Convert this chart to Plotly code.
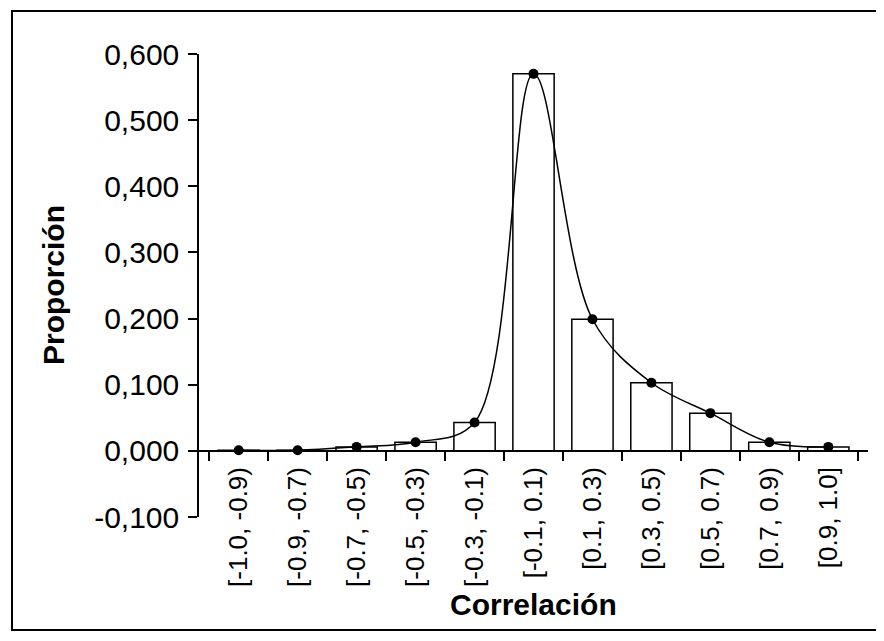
import plotly.graph_objects as go

categories = ["[-1.0, -0.9)", "[-0.9, -0.7)", "[-0.7, -0.5)", "[-0.5, -0.3)", "[-0.3, -0.1)",
              "[-0.1, 0.1)", "[0.1, 0.3)", "[0.3, 0.5)", "[0.5, 0.7)", "[0.7, 0.9)", "[0.9, 1.0]"]
proportion = [0.001, 0.001, 0.006, 0.013, 0.043, 0.570, 0.199, 0.103, 0.057, 0.013, 0.006]
y_tick_vals = [-0.1, 0.0, 0.1, 0.2, 0.3, 0.4, 0.5, 0.6]
y_tick_text = ["-0,100", "0,000", "0,100", "0,200", "0,300", "0,400", "0,500", "0,600"]

# the page body has an 8px margin; figure occupies window minus that offset
OFF = 8
W, H = 884 - OFF, 641 - OFF
L, R, T, B = 199 - OFF, 16, 54 - OFF, 124
pw, ph = W - L - R, H - T - B
ymin, ymax = -0.1, 0.6

def px_x(x):
    return (x - OFF - L) / pw

def px_y(y):
    return (H - B - (y - OFF)) / ph

fig = go.Figure()
fig.add_trace(go.Bar(
    x=categories, y=proportion,
    marker=dict(color="white", line=dict(color="black", width=1.5)),
    showlegend=False, hoverinfo="x+y",
))
fig.add_trace(go.Scatter(
    x=categories, y=proportion, mode="lines+markers",
    line=dict(color="black", width=1.5, shape="spline", smoothing=1.0),
    marker=dict(color="black", size=10),
    showlegend=False,
))

font_family = "Liberation Sans, Arial, sans-serif"
fig.update_layout(
    width=W, height=H,
    margin=dict(l=L, r=R, t=T, b=B, autoexpand=False),
    paper_bgcolor="white", plot_bgcolor="white",
    font=dict(family=font_family, color="black"),
    bargap=0.3,
    xaxis=dict(
        type="category", anchor="free", position=(0 - ymin) / (ymax - ymin),
        showline=True, linecolor="black", linewidth=1.5,
        ticks="outside", ticklen=9, tickwidth=1.5, tickcolor="black",
        tickson="boundaries", tickangle=-90, ticklabelstandoff=5,
        tickfont=dict(size=26, family=font_family),
        showgrid=False, zeroline=False,
    ),
    yaxis=dict(
        range=[ymin, ymax], tickvals=y_tick_vals, ticktext=y_tick_text,
        showline=True, linecolor="black", linewidth=1.5,
        ticks="outside", ticklen=9, tickwidth=1.5, tickcolor="black",
        ticklabelstandoff=3,
        tickfont=dict(size=30, family=font_family),
        showgrid=False, zeroline=False,
    ),
    annotations=[
        dict(text="<b>Proporción</b>", xref="paper", yref="paper",
             x=px_x(53), y=px_y(285), textangle=-90, showarrow=False,
             font=dict(size=30, family=font_family), xanchor="center", yanchor="middle"),
        dict(text="<b>Correlación</b>", xref="paper", yref="paper",
             x=px_x(533), y=px_y(604), showarrow=False,
             font=dict(size=30, family=font_family), xanchor="center", yanchor="middle"),
    ],
    shapes=[
        dict(type="rect", xref="paper", yref="paper",
             x0=px_x(12), x1=px_x(881), y0=px_y(630), y1=px_y(11),
             line=dict(color="black", width=2), fillcolor="rgba(0,0,0,0)", layer="below"),
    ],
)

fig.write_html("out.html")
